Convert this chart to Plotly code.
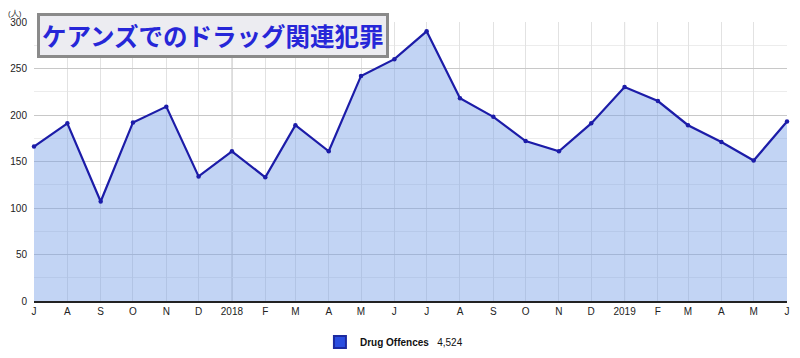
import plotly.graph_objects as go

months = ["2017-07-01","2017-08-01","2017-09-01","2017-10-01","2017-11-01","2017-12-01",
          "2018-01-01","2018-02-01","2018-03-01","2018-04-01","2018-05-01","2018-06-01",
          "2018-07-01","2018-08-01","2018-09-01","2018-10-01","2018-11-01","2018-12-01",
          "2019-01-01","2019-02-01","2019-03-01","2019-04-01","2019-05-01","2019-06-01"]
offences = [166, 191, 107, 192, 209, 134, 161, 133, 189, 161, 242, 260,
            290, 218, 198, 172, 161, 191, 230, 215, 189, 171, 151, 193]
tick_labels = ["J","A","S","O","N","D","2018","F","M","A","M","J",
               "J","A","S","O","N","D","2019","F","M","A","M","J"]
y_ticks = [0, 50, 100, 150, 200, 250, 300]
title_text = "ケアンズでのドラッグ関連犯罪"
series_name = "Drug Offences"
total_label = "4,524"

fig = go.Figure()
fig.add_trace(go.Scatter(
    x=months, y=offences, mode="lines+markers",
    line=dict(color="#1c1ca8", width=2.2),
    marker=dict(color="#1c1ca8", size=4.5),
    fill="tozeroy", fillcolor="rgba(120,160,230,0.45)",
    showlegend=False, hoverinfo="x+y", cliponaxis=False))
fig.add_trace(go.Scatter(
    x=[None], y=[None], mode="markers",
    marker=dict(symbol="square", color="#2a4ee0", size=9, line=dict(color="#1c2aa0", width=1)),
    name=f"<b>{series_name}</b>   {total_label}", showlegend=True))

# year boundary lines (darker vertical gridlines)
for d in ["2018-01-01", "2019-01-01"]:
    fig.add_shape(type="line", xref="x", yref="paper", x0=d, x1=d, y0=0, y1=1,
                  line=dict(color="rgba(150,150,150,0.8)", width=1), layer="below")

fig.update_layout(
    width=792, height=350,
    margin=dict(l=26, r=13, t=14, b=57, autoexpand=False),
    paper_bgcolor="white", plot_bgcolor="white",
    font=dict(family="Liberation Sans, Arial, sans-serif", size=10, color="#222"),
    showlegend=True,
    legend=dict(orientation="h", x=0.478, xanchor="center", y=-0.147, yanchor="middle",
                font=dict(size=10, color="#111"), itemsizing="constant", itemwidth=30),
    xaxis=dict(type="date", range=["2017-07-01", "2019-06-01"], automargin=False,
               tickmode="array", tickvals=months, ticktext=tick_labels,
               showgrid=True, gridcolor="#e2e2e2", gridwidth=1,
               showline=True, linecolor="#222", linewidth=1.5,
               ticks="", tickfont=dict(size=10, color="#222"), zeroline=False),
    yaxis=dict(range=[0, 300], tickmode="array", tickvals=y_ticks, automargin=False,
               showgrid=True, gridcolor="#c8c8c8", gridwidth=1,
               minor=dict(dtick=25, showgrid=True, gridcolor="#ececec", gridwidth=1),
               zeroline=False, ticks="", tickfont=dict(size=10, color="#222"),
               ticklabelstandoff=6),
    annotations=[
        dict(text="(人)", xref="paper", yref="paper", x=-0.025, y=1.0, xanchor="center",
             yanchor="bottom", yshift=2, showarrow=False, font=dict(size=8, color="#333")),
        dict(text=f"<b>{title_text}</b>", xref="paper", yref="paper", x=0.004, y=1.0, xanchor="left",
             yanchor="top", yshift=9, showarrow=False,
             font=dict(family="Noto Sans CJK JP", size=24.5, color="#2626d8"),
             bgcolor="#ececf1", bordercolor="#8a8a8a", borderwidth=3, borderpad=2),
    ],
)

fig.write_html("out.html")
